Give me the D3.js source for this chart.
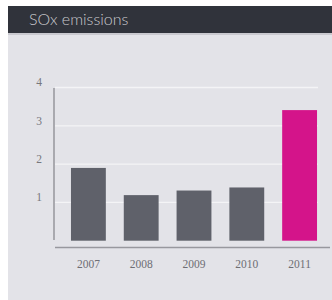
<!DOCTYPE html>
<html>
<head>
<meta charset="utf-8">
<script src="https://cdn.jsdelivr.net/npm/d3@7"></script>
<style>
  body { margin: 0; background: #fff; }
</style>
</head>
<body>
<script>
const title = 'SOx emissions'
const years = ['2007', '2008', '2009', '2010', '2011']
const values = [1.9, 1.19, 1.31, 1.39, 3.41]
const yTicks = [1, 2, 3, 4]

const w = 332
const h = 300

const svg = d3.select('body')
  .append('svg')
  .attr('width', w)
  .attr('height', h)

// panel
svg.append('rect')
  .attr('x', 8).attr('y', 6)
  .attr('width', w - 8).attr('height', h - 6)
  .attr('fill', '#e3e3e8')

// header
svg.append('rect')
  .attr('x', 8).attr('y', 6)
  .attr('width', w - 8).attr('height', 27)
  .attr('fill', '#30333b')
svg.append('rect')
  .attr('x', 8).attr('y', 33)
  .attr('width', w - 8).attr('height', 2)
  .attr('fill', '#c9c9cf')

svg.append('text')
  .attr('x', 29)
  .attr('y', 25)
  .attr('font-family', 'Lato, "Open Sans", sans-serif')
  .attr('font-weight', 300)
  .attr('font-size', 16)
  .attr('fill', '#c8c8cc')
  .text(title)

const xScale = d3.scaleBand()
  .domain(years)
  .range([62, 326])
  .paddingInner(0.34)
  .paddingOuter(0.17)

const yScale = d3.scaleLinear()
  .domain([0, 4])
  .range([240.7, 87.5])

// gridlines
svg.append('g')
  .selectAll('line')
  .data(yTicks)
  .join('line')
  .attr('x1', 55)
  .attr('x2', 318)
  .attr('y1', d => yScale(d))
  .attr('y2', d => yScale(d))
  .attr('stroke', '#f4f4f6')
  .attr('stroke-width', 1.3)

// bars
svg.append('g')
  .selectAll('rect')
  .data(values)
  .join('rect')
  .attr('x', (d, i) => xScale(years[i]))
  .attr('y', d => yScale(d))
  .attr('width', xScale.bandwidth())
  .attr('height', d => yScale(0) - yScale(d))
  .attr('fill', (d, i) => i === years.length - 1 ? '#d4148a' : '#5f616a')

// y axis
const yAxis = d3.axisLeft(yScale)
  .tickValues(yTicks)
  .tickFormat(d3.format('d'))
  .tickSize(0)
  .tickPadding(12)

svg.append('g')
  .attr('transform', 'translate(54, 0)')
  .call(yAxis)
  .call(g => g.select('.domain').remove())
  .call(g => g.selectAll('text')
    .attr('font-family', '"Liberation Serif", serif')
    .attr('font-size', 11.5)
    .attr('fill', '#77777d')
    .attr('dy', '-0.15em'))

svg.append('line')
  .attr('x1', 54).attr('x2', 54)
  .attr('y1', 88).attr('y2', 240)
  .attr('stroke', '#8a8a90')
  .attr('stroke-width', 1.3)

// x axis
const xAxis = d3.axisBottom(xScale).tickSize(0).tickPadding(12)

svg.append('g')
  .attr('transform', 'translate(0, 247.5)')
  .call(xAxis)
  .call(g => g.select('.domain').remove())
  .call(g => g.selectAll('text')
    .attr('font-family', '"Liberation Serif", serif')
    .attr('font-size', 11.5)
    .attr('fill', '#6e6e74'))

svg.append('line')
  .attr('x1', 55).attr('x2', 330)
  .attr('y1', 247.5).attr('y2', 247.5)
  .attr('stroke', '#98989e')
  .attr('stroke-width', 1.5)
</script>
</body>
</html>
